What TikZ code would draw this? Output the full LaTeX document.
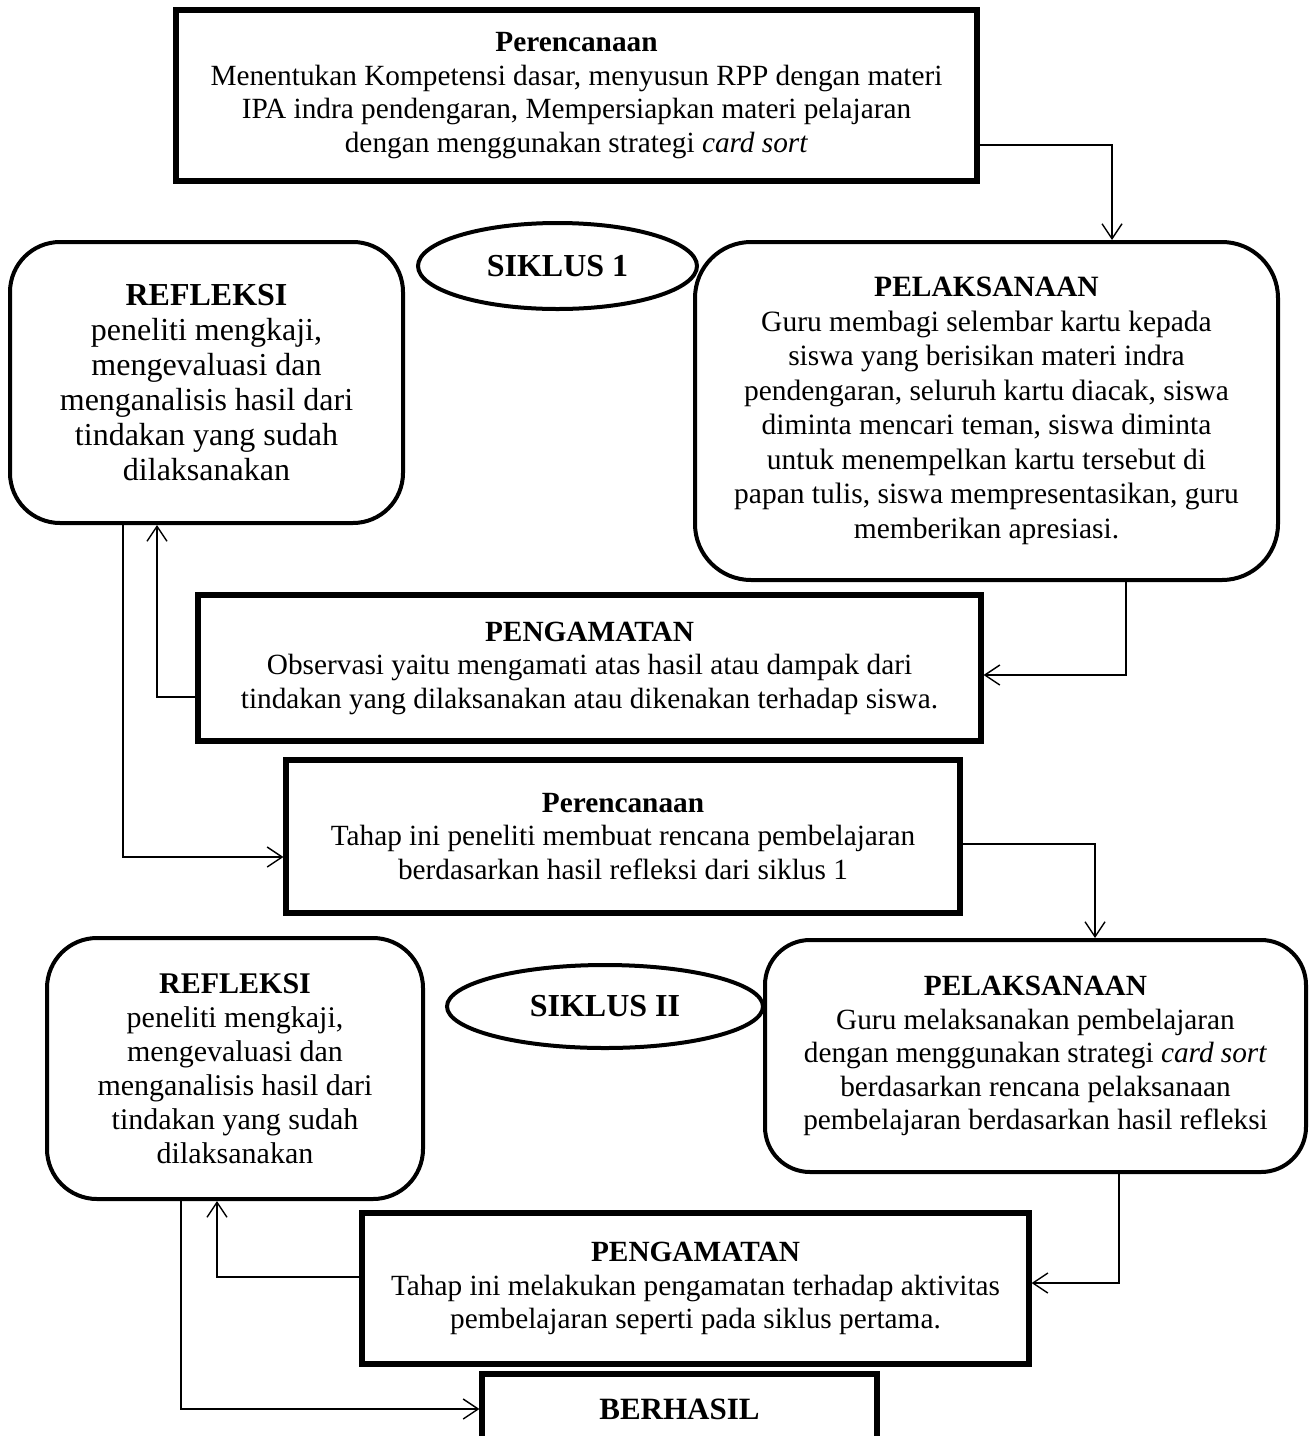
\documentclass[tikz,border=0pt]{standalone}
\usepackage{fontspec}
\setmainfont{Liberation Serif}
\usetikzlibrary{shapes.geometric,arrows.meta}

\begin{document}
\begin{tikzpicture}[x=0.5pt,y=-0.5pt,
                box/.style={draw,line width=2.6pt,align=center,inner sep=0pt,
                            font=\fontsize{14.65}{16.75}\selectfont},
                roundbox/.style={draw,line width=2pt,align=center,inner sep=0pt,rounded corners=25pt},
                siklus/.style={draw,ellipse,line width=2pt,inner sep=0pt,
                            font=\fontsize{16}{18}\selectfont\bfseries},
                link/.style={line width=0.7pt,-{Straight Barb[length=7.5pt,width=10pt]}}]
                \useasboundingbox (0,0) rectangle (1316,1436);
                \clip (0,0) rectangle (1316,1436);
                \node [box,minimum width=400.5pt,minimum height=85.5pt] (plan1) at (576.5,95.5)
                    {\textbf{Perencanaan}\\ Menentukan Kompetensi dasar, menyusun RPP dengan materi\\
                     IPA indra pendengaran, Mempersiapkan materi pelajaran\\
                     dengan menggunakan strategi \textit{card sort}};
                \node [siklus,minimum width=139.5pt,minimum height=43pt] (siklus1) at (557.5,266) {SIKLUS 1};
                \node [roundbox,minimum width=196.5pt,minimum height=140.5pt,
                       font=\fontsize{16}{17.5}\selectfont] (ref1) at (206.5,382.5)
                    {\textbf{REFLEKSI}\\ peneliti mengkaji,\\ mengevaluasi dan\\ menganalisis hasil dari\\
                     tindakan yang sudah\\ dilaksanakan};
                \node [roundbox,rounded corners=28pt,minimum width=291.5pt,minimum height=169pt,
                       font=\fontsize{14.75}{17.25}\selectfont] (pel1) at (986.5,411)
                    {\textbf{PELAKSANAAN}\\ Guru membagi selembar kartu kepada\\ siswa yang berisikan materi indra\\
                     pendengaran, seluruh kartu diacak, siswa\\ diminta mencari teman, siswa diminta\\
                     untuk menempelkan kartu tersebut di\\ papan tulis, siswa mempresentasikan, guru\\
                     memberikan apresiasi.};
                \node [box,minimum width=391.5pt,minimum height=73pt] (peng1) at (589.5,668)
                    {\textbf{PENGAMATAN}\\ Observasi yaitu mengamati atas hasil atau dampak dari\\
                     tindakan yang dilaksanakan atau dikenakan terhadap siswa.};
                \node [box,minimum width=337pt,minimum height=76.5pt] (plan2) at (623,836.5)
                    {\textbf{Perencanaan}\\ Tahap ini peneliti membuat rencana pembelajaran\\
                     berdasarkan hasil refleksi dari siklus 1};
                \node [roundbox,minimum width=188pt,minimum height=130.5pt,
                       font=\fontsize{15}{17}\selectfont] (ref2) at (235,1068.5)
                    {\textbf{REFLEKSI}\\ peneliti mengkaji,\\ mengevaluasi dan\\ menganalisis hasil dari\\
                     tindakan yang sudah\\ dilaksanakan};
                \node [siklus,minimum width=158pt,minimum height=41.5pt] (siklus2) at (605,1006.5) {SIKLUS II};
                \node [roundbox,rounded corners=22.5pt,minimum width=270.5pt,minimum height=116pt,
                       font=\fontsize{14.65}{16.75}\selectfont] (pel2) at (1035.5,1056)
                    {\textbf{PELAKSANAAN}\\ Guru melaksanakan pembelajaran\\
                     dengan menggunakan strategi \textit{card sort}\\ berdasarkan rencana pelaksanaan\\
                     pembelajaran berdasarkan hasil refleksi};
                \node [box,minimum width=333.5pt,minimum height=75.5pt] (peng2) at (695.5,1288.5)
                    {\textbf{PENGAMATAN}\\ Tahap ini melakukan pengamatan terhadap aktivitas\\
                     pembelajaran seperti pada siklus pertama.};
                \node [box,minimum width=197.5pt,minimum height=35pt,
                       font=\fontsize{15.5}{17}\selectfont\bfseries] (berhasil) at (679.5,1409) {BERHASIL};
                \draw [link] (plan1.east |- 0,145) -| (pel1.north -| 1112,0);
                \draw [link] (pel1.south -| 1126,0) |- (peng1.east |- 0,675);
                \draw [link] (peng1.west |- 0,697) -| (ref1.south -| 157,0);
                \draw [link] (ref1.south -| 123,0) |- (plan2.west |- 0,857);
                \draw [link] (plan2.east |- 0,844) -| (pel2.north -| 1095,0);
                \draw [link] (pel2.south -| 1119,0) |- (peng2.east |- 0,1283);
                \draw [link] (peng2.west |- 0,1277) -| (ref2.south -| 217,0);
                \draw [link] (ref2.south -| 181,0) |- (berhasil.west |- 0,1409);
            \end{tikzpicture}
\end{document}
